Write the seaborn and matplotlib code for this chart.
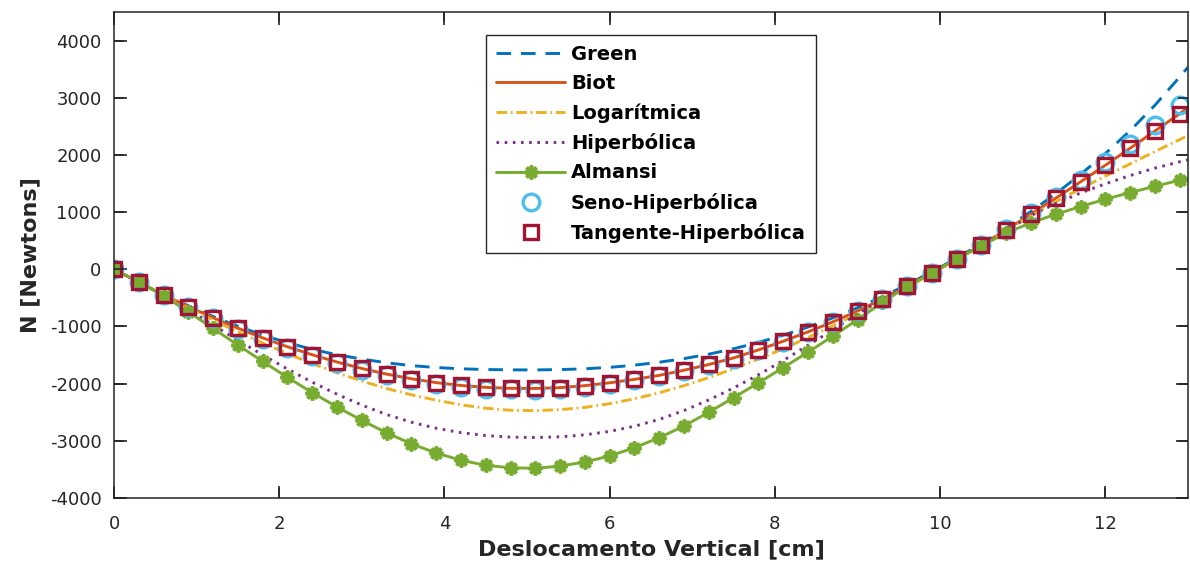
import numpy as np
import matplotlib
matplotlib.use("Agg")
import matplotlib.pyplot as plt
import seaborn as sns

# Vertical displacement [cm]: one sample every 0.3 cm, line curves closed at 13 cm
disp_samples = np.round(np.arange(0.0, 12.91, 0.3), 1)
disp_curve = np.append(disp_samples, 13.0)

# Axial force N [Newtons] for each strain measure
n_green = [0, -224, -438, -638, -825, -996, -1150, -1285, -1400, -1495, -1570,
           -1635, -1685, -1718, -1740, -1753, -1759, -1760, -1754, -1740, -1715,
           -1677, -1625, -1562, -1484, -1390, -1280, -1153, -1010, -850, -673,
           -480, -270, -45, 195, 450, 722, 1012, 1322, 1660, 2025, 2425, 2870,
           3365, 3535]
n_biot = [0, -226, -445, -652, -848, -1030, -1200, -1355, -1495, -1622, -1735,
          -1833, -1915, -1982, -2032, -2065, -2082, -2084, -2070, -2035, -1985,
          -1925, -1855, -1765, -1665, -1550, -1410, -1258, -1095, -920, -730,
          -520, -295, -65, 175, 425, 690, 965, 1245, 1530, 1820, 2118, 2418,
          2722, 2825]
n_log = [0, -228, -455, -675, -890, -1095, -1290, -1475, -1650, -1810, -1955,
         -2085, -2195, -2290, -2370, -2430, -2465, -2472, -2455, -2415, -2350,
         -2265, -2160, -2035, -1895, -1740, -1570, -1390, -1195, -990, -775,
         -550, -320, -75, 165, 420, 680, 940, 1180, 1410, 1630, 1845, 2060,
         2270, 2340]
n_hyp = [0, -224, -458, -710, -975, -1240, -1498, -1745, -1975, -2185, -2375,
         -2540, -2675, -2780, -2857, -2908, -2935, -2942, -2930, -2895, -2835,
         -2745, -2625, -2470, -2285, -2075, -1845, -1595, -1330, -1060, -785,
         -515, -275, -50, 180, 420, 680, 940, 1150, 1335, 1495, 1640, 1770,
         1880, 1915]
n_almansi = [0, -222, -462, -745, -1035, -1325, -1612, -1890, -2158, -2408,
             -2643, -2860, -3053, -3213, -3340, -3428, -3472, -3480, -3442,
             -3370, -3265, -3120, -2945, -2740, -2500, -2245, -1985, -1720,
             -1450, -1170, -880, -580, -300, -60, 180, 412, 635, 815, 962, 1098,
             1225, 1342, 1452, 1558, 1590]
n_sinh = [0, -228, -450, -660, -858, -1042, -1213, -1370, -1511, -1640, -1753,
          -1852, -1935, -2002, -2052, -2085, -2102, -2104, -2090, -2055, -2004,
          -1943, -1871, -1780, -1678, -1562, -1420, -1266, -1101, -924, -733,
          -521, -295, -64, 177, 430, 697, 978, 1265, 1565, 1875, 2195, 2530,
          2868]
n_tanh = [0, -226, -445, -652, -848, -1030, -1200, -1355, -1495, -1622, -1735,
          -1833, -1915, -1982, -2032, -2065, -2082, -2084, -2070, -2035, -1985,
          -1925, -1855, -1765, -1665, -1550, -1410, -1258, -1095, -920, -730,
          -520, -295, -65, 175, 425, 690, 965, 1245, 1530, 1820, 2118, 2418,
          2722]

x_ticks = [0, 2, 4, 6, 8, 10, 12]
y_ticks = [-4000, -3000, -2000, -1000, 0, 1000, 2000, 3000, 4000]

ink = "#262626"
sns.set_theme(style="ticks")
plt.rcParams["font.family"] = ["DejaVu Sans"]

fig = plt.figure(figsize=(11.9, 5.73), dpi=100)
ax = fig.add_axes([114 / 1190, 1 - 498 / 573, (1188 - 114) / 1190, (498 - 12) / 573])

lw = 2.1
common = dict(ax=ax, sort=False, estimator=None)

sns.lineplot(x=disp_curve, y=n_green, color="#0072BD", linewidth=lw,
             linestyle=(0, (5.0, 3.4)), label="Green", **common)
sns.lineplot(x=disp_curve, y=n_biot, color="#D95319", linewidth=lw,
             label="Biot", **common)
sns.lineplot(x=disp_curve, y=n_log, color="#EDB120", linewidth=lw,
             linestyle=(0, (3.6, 1.3, 0.6, 1.3)), label="Logarítmica", **common)
sns.lineplot(x=disp_curve, y=n_hyp, color="#7E2F8E", linewidth=lw,
             linestyle=(0, (0.9, 1.9)), label="Hiperbólica", **common)
sns.lineplot(x=disp_curve, y=n_almansi, color="#77AC30", linewidth=lw,
             marker=(8, 2, 0), markersize=10, markeredgewidth=2.6,
             markeredgecolor="#77AC30", markerfacecolor="#77AC30",
             markevery=slice(0, len(disp_samples)), label="Almansi", **common)
sns.lineplot(x=disp_samples, y=n_sinh, color="#4DBEEE", linestyle="none",
             marker="o", markersize=12, markeredgewidth=2.4,
             markeredgecolor="#4DBEEE", markerfacecolor="none",
             label="Seno-Hiperbólica", **common)
sns.lineplot(x=disp_samples, y=n_tanh, color="#A2142F", linestyle="none",
             marker="s", markersize=9.5, markeredgewidth=2.4,
             markeredgecolor="#A2142F", markerfacecolor="none",
             label="Tangente-Hiperbólica", **common)

ax.set_xlim(0, 13)
ax.set_ylim(-4000, 4500)
ax.set_xticks(x_ticks)
ax.set_yticks(y_ticks)
ax.set_xticklabels([str(v) for v in x_ticks])
ax.set_yticklabels([str(v) for v in y_ticks])
ax.minorticks_off()

for side in ["left", "right", "top", "bottom"]:
    ax.spines[side].set_visible(True)
    ax.spines[side].set_color(ink)
    ax.spines[side].set_linewidth(1.1)

ax.xaxis.set_tick_params(which="major", direction="in", length=9, width=1.2,
                         color=ink, labelcolor=ink, labelsize=13, pad=12,
                         bottom=True, top=True)
ax.yaxis.set_tick_params(which="major", direction="in", length=9, width=1.2,
                         color=ink, labelcolor=ink, labelsize=13, pad=9,
                         left=True, right=True)

# inward tick marks on all four sides of the box
tick_frac_x = 10 / 486
tick_frac_y = 10 / 1074
xt = ax.get_xaxis_transform()
yt = ax.get_yaxis_transform()
ax.vlines(x_ticks, 0, tick_frac_x, transform=xt, colors=ink, linewidth=1.2,
          zorder=6, clip_on=False)
ax.vlines(x_ticks, 1 - tick_frac_x, 1, transform=xt, colors=ink,
          linewidth=1.2, zorder=6, clip_on=False)
ax.hlines(y_ticks, 0, tick_frac_y, transform=yt, colors=ink, linewidth=1.2,
          zorder=6, clip_on=False)
ax.hlines(y_ticks, 1 - tick_frac_y, 1, transform=yt, colors=ink,
          linewidth=1.2, zorder=6, clip_on=False)

ax.set_xlabel("Deslocamento Vertical [cm]", fontsize=16, fontweight="bold",
              color=ink, labelpad=5)
ax.set_ylabel("N [Newtons]", fontsize=16, fontweight="bold", color=ink,
              labelpad=7)

leg = ax.legend(loc="upper center", bbox_to_anchor=(0.5, 1 - 23 / 486),
                frameon=True, fancybox=False, framealpha=1, edgecolor=ink,
                prop={"weight": "bold", "size": 14}, handlelength=3.55,
                handletextpad=0.3, labelspacing=0.53, borderpad=0.5,
                borderaxespad=0, numpoints=1)
leg.get_frame().set_linewidth(1.0)
leg.set_zorder(10)
for text in leg.get_texts():
    text.set_color("black")

fig.savefig("out.png", dpi=100)
